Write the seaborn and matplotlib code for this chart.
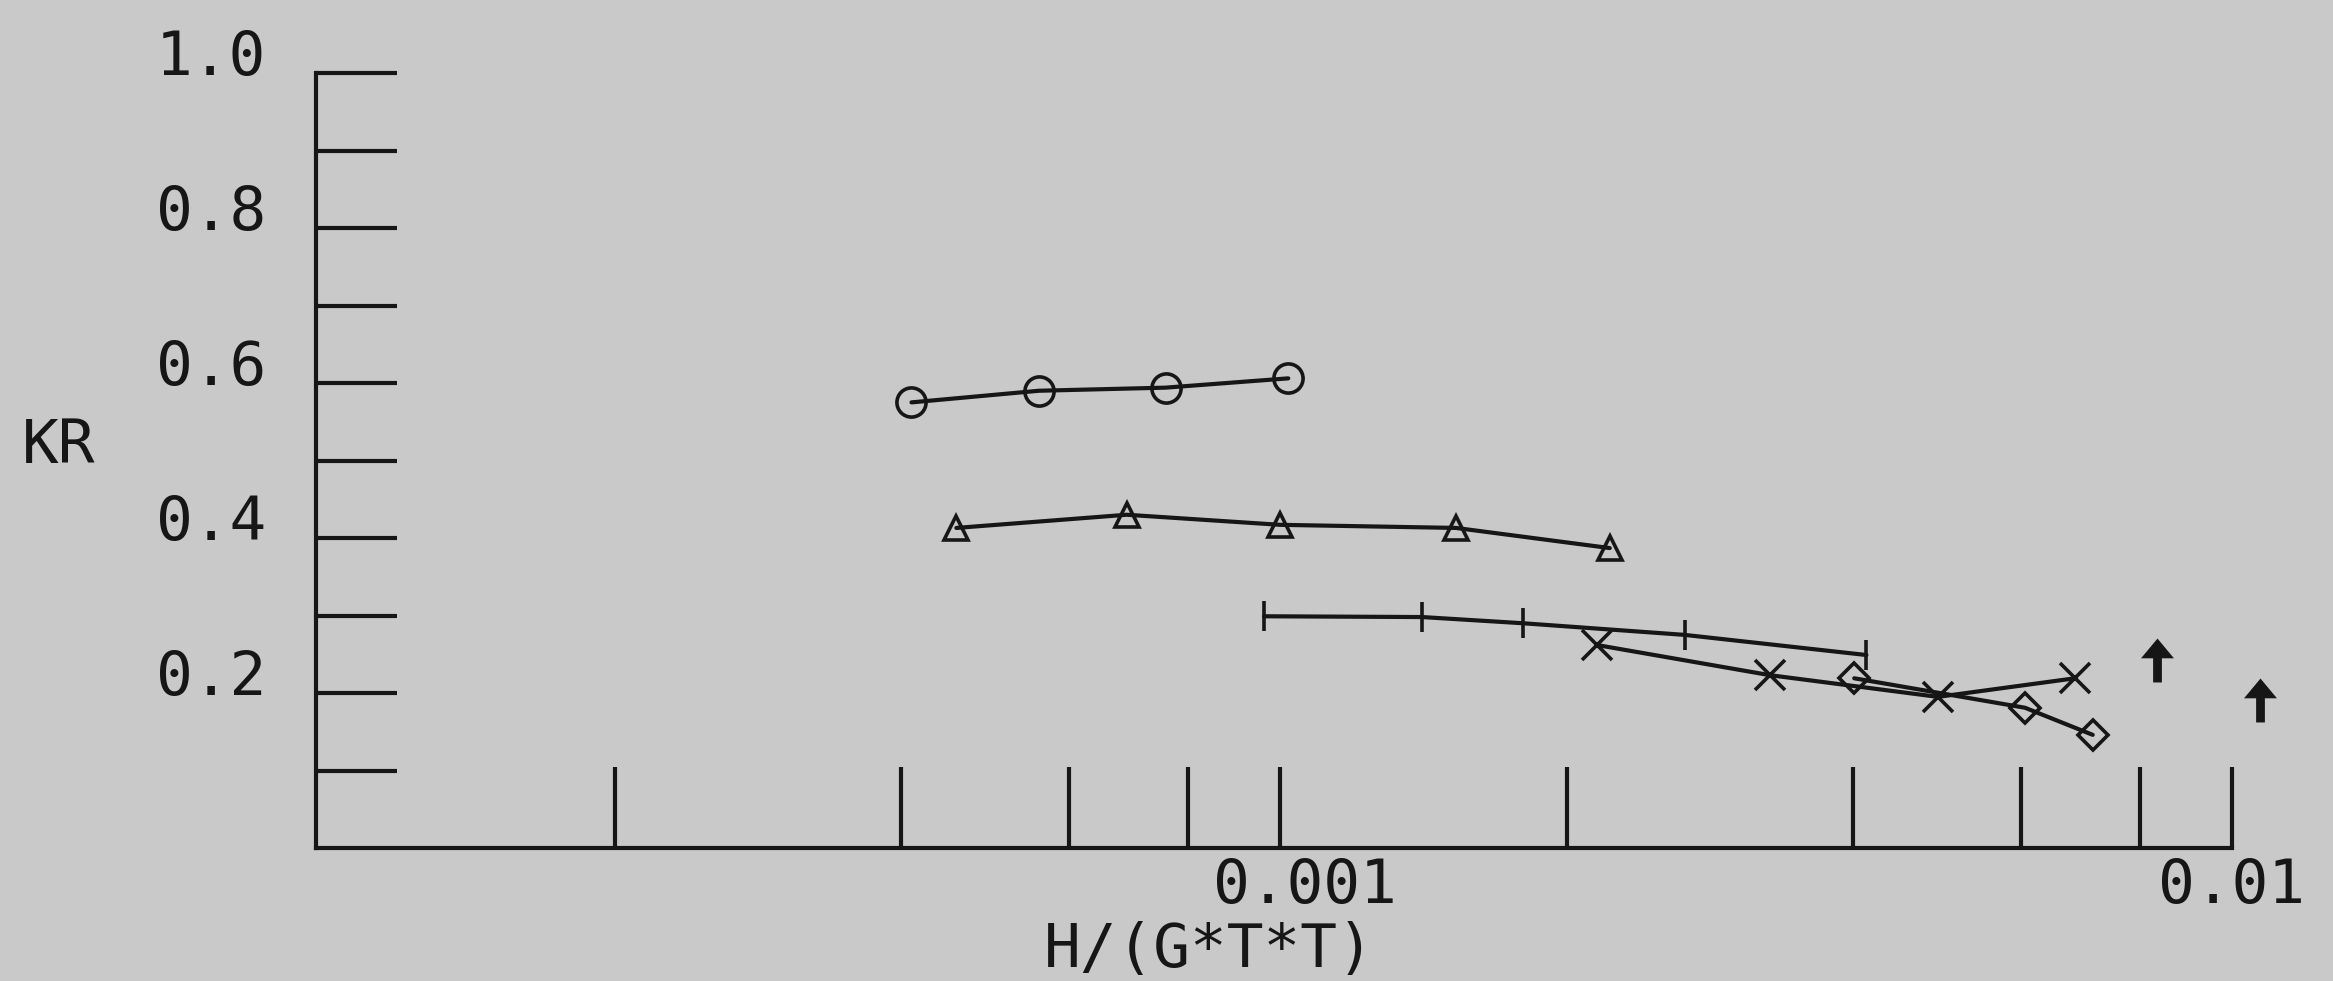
import matplotlib
matplotlib.use("Agg")
import matplotlib.pyplot as plt
import matplotlib.transforms as mtransforms
from matplotlib.path import Path
import seaborn as sns

# values (x is H/(G*T*T), log axis)
circle_x = [4.10e-4, 5.58e-4, 7.58e-4, 1.02e-3]
circle_kr = [0.575, 0.590, 0.594, 0.606]

tri_x = [4.57e-4, 6.90e-4, 1.00e-3, 1.53e-3, 2.22e-3]
tri_kr = [0.413, 0.430, 0.417, 0.413, 0.387]

plus_x = [9.62e-4, 1.41e-3, 1.80e-3, 2.66e-3, 4.13e-3]
plus_kr = [0.299, 0.298, 0.290, 0.275, 0.249]

cross_x = [2.15e-3, 3.27e-3, 4.91e-3, 6.84e-3]
cross_kr = [0.262, 0.223, 0.195, 0.219]

diam_x = [4.01e-3, 6.06e-3, 7.14e-3]
diam_kr = [0.219, 0.181, 0.146]

arrow_x = [8.35e-3, 1.07e-2]
arrow_kr = [0.243, 0.191]

x_ticks = [2e-4, 4e-4, 6e-4, 8e-4, 1e-3, 2e-3, 4e-3, 6e-3, 8e-3, 1e-2]
x_labels = ["0.001", "0.01"]
x_label_pos = [1.062e-3, 1e-2]
y_ticks = [0.1, 0.2, 0.3, 0.4, 0.5, 0.6, 0.7, 0.8, 0.9, 1.0]
y_labels = ["0.2", "0.4", "0.6", "0.8", "1.0"]
y_label_pos = [0.2, 0.4, 0.6, 0.8, 1.0]

BG = "#c9c9c9"
INK = "#161616"

sns.set_style("ticks")
plt.rcParams["font.family"] = ["DejaVu Sans Mono", "DejaVu Sans"]

W, H = 2333, 981
fig = plt.figure(figsize=(W / 100, H / 100), dpi=100, facecolor=BG)
# axes box in pixels: left 316, bottom 848, right 2232, top 73
ax = fig.add_axes([316 / W, 1 - 848 / H, (2232 - 316) / W, (848 - 73) / H])
ax.set_facecolor(BG)

lw = 3.0
common = dict(color=INK, linewidth=lw, sort=False, estimator=None, ax=ax,
              markeredgewidth=2.6, clip_on=False)

sns.lineplot(x=circle_x, y=circle_kr, marker="o", markersize=21,
             markerfacecolor="none", markeredgecolor=INK, **common)
sns.lineplot(x=tri_x, y=tri_kr, marker="^", markersize=17,
             markerfacecolor="none", markeredgecolor=INK, **common)
sns.lineplot(x=plus_x, y=plus_kr, marker="|", markersize=22,
             markeredgecolor=INK, **common)
sns.lineplot(x=cross_x, y=cross_kr, marker="x", markersize=21,
             markeredgecolor=INK, **common)
sns.lineplot(x=diam_x, y=diam_kr, marker="D", markersize=15,
             markerfacecolor="none", markeredgecolor=INK, **common)

# filled up-arrow symbol
arrow = Path([(0, 1), (-0.75, 0.1), (-0.2, 0.1), (-0.2, -1),
              (0.2, -1), (0.2, 0.1), (0.75, 0.1), (0, 1)],
             [Path.MOVETO] + [Path.LINETO] * 6 + [Path.CLOSEPOLY])
sns.scatterplot(x=arrow_x, y=arrow_kr, marker=arrow, s=1000, color=INK,
                edgecolor=INK, linewidth=0, ax=ax, clip_on=False)

ax.set_xscale("log")
ax.set_xlim(9.71e-5, 1e-2)
ax.set_ylim(0, 1)

ax.set_xticks(x_ticks)
ax.set_xticks([], minor=True)
ax.set_yticks(y_ticks)
ax.tick_params(axis="both", which="major", direction="in", length=58,
               width=3.0, color=INK, labelbottom=False, labelleft=False)
ax.tick_params(axis="x", which="minor", length=0)

sns.despine(ax=ax, top=True, right=True)
for side in ["left", "bottom"]:
    ax.spines[side].set_color(INK)
    ax.spines[side].set_linewidth(3.0)

fs = 44
tr_y = mtransforms.blended_transform_factory(ax.transAxes, ax.transData)
for lab, v in zip(y_labels, y_label_pos):
    ax.text(-0.026, v - 0.003, lab, transform=tr_y, ha="right",
            va="baseline", fontsize=fs, color=INK)

tr_x = mtransforms.blended_transform_factory(ax.transData, ax.transAxes)
for lab, v in zip(x_labels, x_label_pos):
    ax.text(v, -(903 - 848) / 775, lab, transform=tr_x, ha="center",
            va="baseline", fontsize=fs, color=INK)

ax.text(8.42e-4, -(967 - 848) / 775, "H/(G*T*T)", transform=tr_x,
        ha="center", va="baseline", fontsize=fs, color=INK)
fig.text(22 / W, 1 - 463 / H, "KR", ha="left", va="baseline", fontsize=fs,
         color=INK)

fig.savefig("out.png", dpi=100, facecolor=BG)
